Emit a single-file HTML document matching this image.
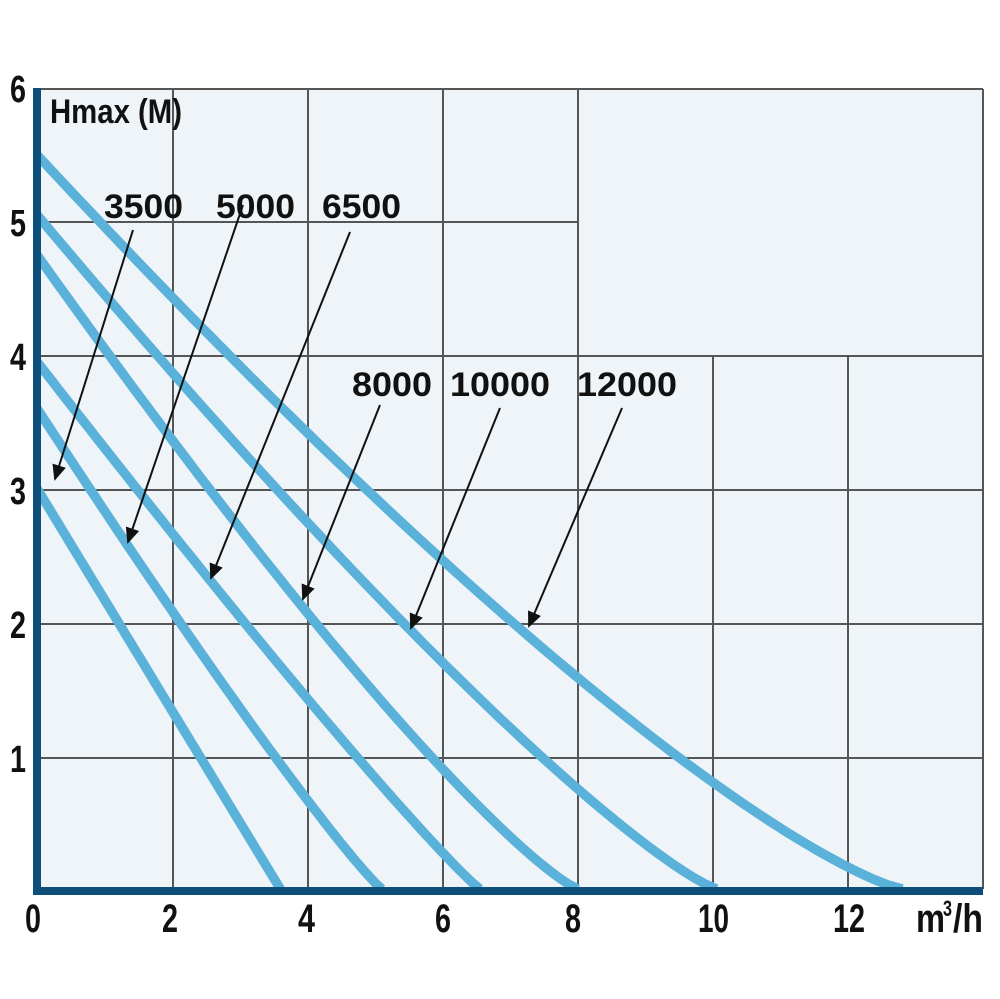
<!DOCTYPE html>
<html><head><meta charset="utf-8"><style>
html,body{margin:0;padding:0;background:#fff}
svg{display:block}
text{font-family:"Liberation Sans",sans-serif;font-weight:bold;fill:#111}
</style></head><body>
<svg id="s" width="1000" height="999" viewBox="0 0 1000 999" xmlns="http://www.w3.org/2000/svg">
<rect x="37" y="89" width="946" height="800" fill="#eef4f8"/>
<g stroke="#555" stroke-width="2" fill="none">
<line x1="37" y1="89" x2="983" y2="89"/>
<line x1="983" y1="89" x2="983" y2="889"/>
<line x1="37" y1="222" x2="578" y2="222"/>
<line x1="37" y1="356" x2="983" y2="356"/>
<line x1="37" y1="490" x2="983" y2="490"/>
<line x1="37" y1="624" x2="983" y2="624"/>
<line x1="37" y1="758" x2="983" y2="758"/>
<line x1="173" y1="89" x2="173" y2="889"/>
<line x1="308" y1="89" x2="308" y2="889"/>
<line x1="443" y1="89" x2="443" y2="889"/>
<line x1="578" y1="89" x2="578" y2="889"/>
<line x1="713" y1="356" x2="713" y2="889"/>
<line x1="848" y1="356" x2="848" y2="889"/>
</g>
<g id="curves" stroke="#5ab1da" stroke-width="9.5" fill="none" stroke-linecap="butt"></g>
<rect x="33" y="88" width="8" height="807" fill="#0d4f7a"/>
<rect x="33" y="887" width="950" height="8" fill="#0d4f7a"/>
<defs><marker id="a" markerWidth="16" markerHeight="14" refX="14" refY="7" orient="auto" markerUnits="userSpaceOnUse"><path d="M0,0 L16,7 L0,14 z" fill="#111"/></marker></defs>
<g stroke="#111" stroke-width="2">
<line x1="133" y1="230" x2="55" y2="479" marker-end="url(#a)"/>
<line x1="243" y1="205" x2="128" y2="542" marker-end="url(#a)"/>
<line x1="350" y1="232" x2="211" y2="578" marker-end="url(#a)"/>
<line x1="380" y1="405" x2="303" y2="599" marker-end="url(#a)"/>
<line x1="500" y1="408" x2="411" y2="628" marker-end="url(#a)"/>
<line x1="622" y1="408" x2="529" y2="626" marker-end="url(#a)"/>
</g>
<g font-size="34">
<text x="104" y="218" textLength="79" lengthAdjust="spacingAndGlyphs">3500</text>
<text x="216" y="218" textLength="79" lengthAdjust="spacingAndGlyphs">5000</text>
<text x="322" y="218" textLength="79" lengthAdjust="spacingAndGlyphs">6500</text>
<text x="352" y="396" textLength="80" lengthAdjust="spacingAndGlyphs">8000</text>
<text x="450" y="396" textLength="100" lengthAdjust="spacingAndGlyphs">10000</text>
<text x="577" y="396" textLength="100" lengthAdjust="spacingAndGlyphs">12000</text>
</g>
<text x="50" y="123" font-size="34" textLength="132" lengthAdjust="spacingAndGlyphs">Hmax (M)</text>
<g font-size="38" text-anchor="middle">
<text x="18" y="102" textLength="16" lengthAdjust="spacingAndGlyphs">6</text>
<text x="18" y="236" textLength="16" lengthAdjust="spacingAndGlyphs">5</text>
<text x="18" y="370" textLength="16" lengthAdjust="spacingAndGlyphs">4</text>
<text x="18" y="504" textLength="16" lengthAdjust="spacingAndGlyphs">3</text>
<text x="18" y="638" textLength="16" lengthAdjust="spacingAndGlyphs">2</text>
<text x="18" y="772" textLength="16" lengthAdjust="spacingAndGlyphs">1</text>
</g>
<g font-size="40">
<text x="25" y="932" textLength="16" lengthAdjust="spacingAndGlyphs">0</text>
<text x="162" y="932" textLength="16" lengthAdjust="spacingAndGlyphs">2</text>
<text x="298" y="932" textLength="17" lengthAdjust="spacingAndGlyphs">4</text>
<text x="435" y="932" textLength="16" lengthAdjust="spacingAndGlyphs">6</text>
<text x="565" y="932" textLength="16" lengthAdjust="spacingAndGlyphs">8</text>
<text x="698" y="932" textLength="31" lengthAdjust="spacingAndGlyphs">10</text>
<text x="833" y="932" textLength="32" lengthAdjust="spacingAndGlyphs">12</text>
<text x="916" y="932" textLength="29" lengthAdjust="spacingAndGlyphs">m</text>
<text x="943" y="916" font-size="22" textLength="9" lengthAdjust="spacingAndGlyphs">3</text>
<text x="953" y="932" textLength="30" lengthAdjust="spacingAndGlyphs">/h</text>
</g>
</svg>
<script>
var C=[[3.0,3.6,1.0],[3.6,5.1,1.1],[3.95,6.55,1.08],[4.75,8.0,1.2],[5.05,10.05,1.2],[5.5,12.8,1.27]];
var g=document.getElementById('curves');
C.forEach(function(c){var d='';for(var i=0;i<=60;i++){var q=c[1]*i/60;var h=c[0]*Math.pow(Math.max(0,1-q/c[1]),c[2]);var x=37+q*67.6,y=889-h*133.5;d+=(i?'L':'M')+x.toFixed(1)+','+y.toFixed(1);}
var p=document.createElementNS('http://www.w3.org/2000/svg','path');p.setAttribute('d',d);g.appendChild(p);});
</script>
</body></html>
